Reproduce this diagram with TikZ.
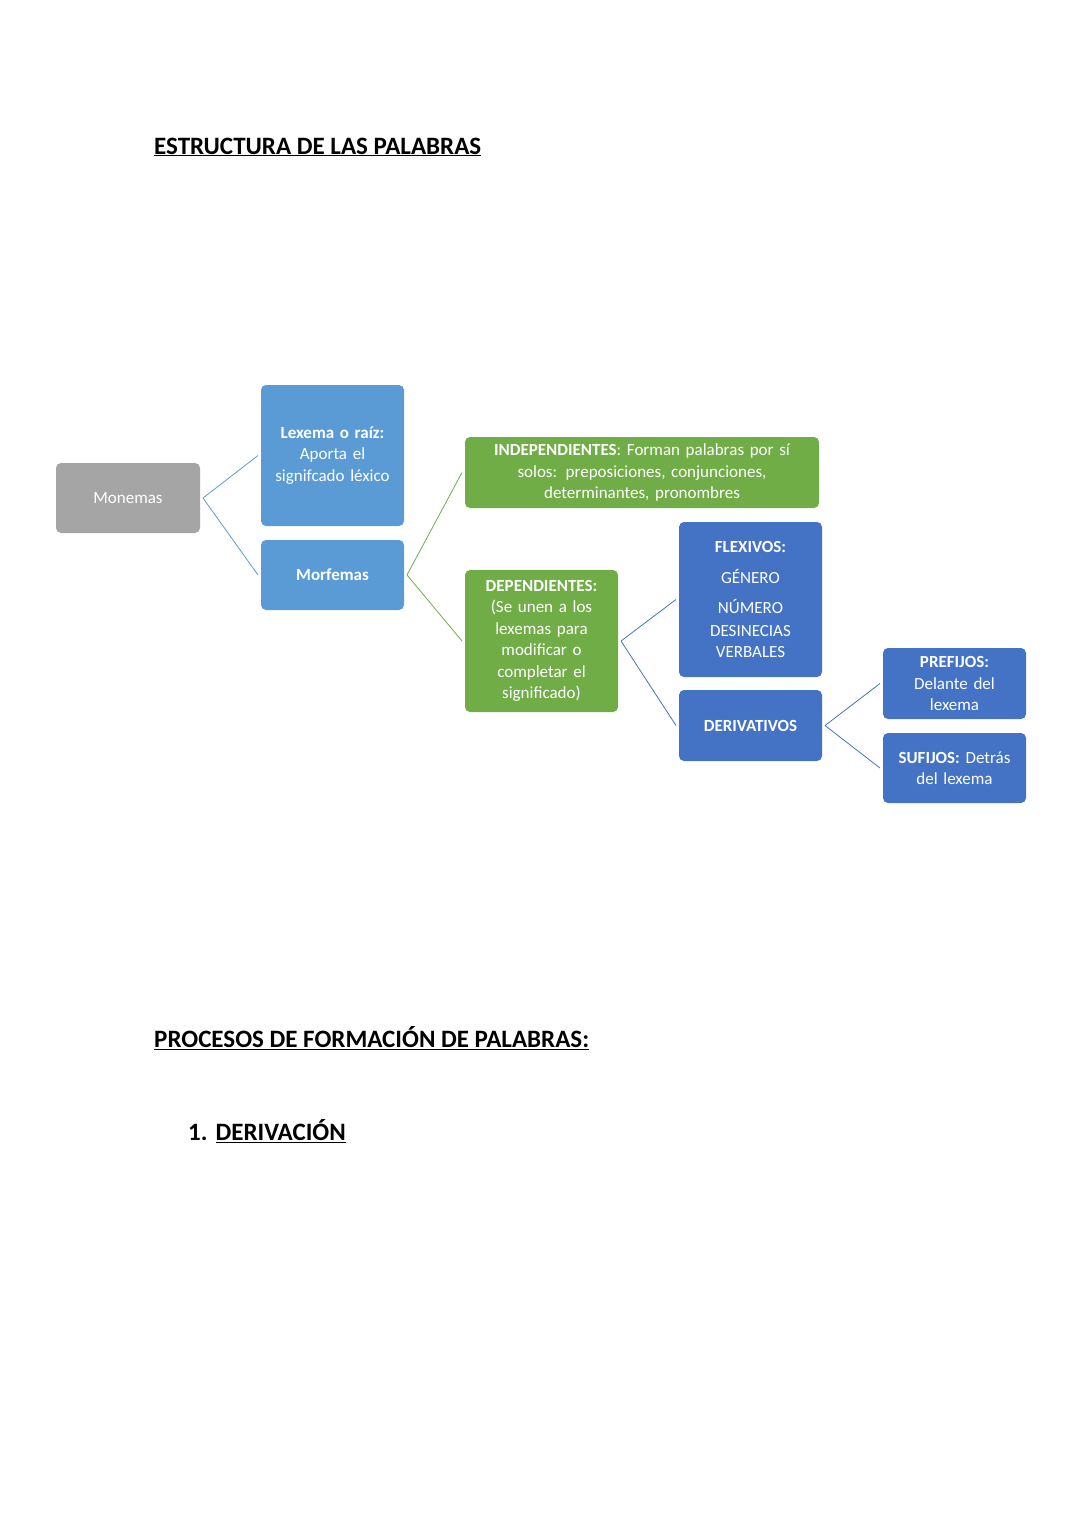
\documentclass[tikz,border=0pt]{standalone}
\usepackage{fontspec}
\setmainfont{Carlito}
\begin{document}
\begin{tikzpicture}[x=1pt,y=-1pt,
 box/.style={rounded corners=5pt,text=white,align=center,inner sep=2pt,font=\fontsize{17}{21.5}\selectfont},
 ttl/.style={anchor=west,font=\fontsize{25}{30}\selectfont\bfseries,inner sep=0pt}]
\useasboundingbox (0,0) rectangle (1080,1527);
\definecolor{gr}{HTML}{A5A5A5}\definecolor{lb}{HTML}{5B9BD5}
\definecolor{gn}{HTML}{70AD47}\definecolor{db}{HTML}{4472C4}
\newcommand\bx[6]{\fill[#2,rounded corners=5pt] (#3,#4) rectangle (#5,#6);
 \node[box,text width=#5pt-#3pt-6pt] (#1) at ({(#3+#5)/2},{(#4+#6)/2}) {};
 \coordinate (#1w) at (#3-3,{(#4+#6)/2}); \coordinate (#1e) at (#5+3,{(#4+#6)/2});}
\bx{mo}{gr}{56}{463}{200}{533}
\bx{le}{lb}{261}{385}{404}{526}
\bx{mf}{lb}{261}{540}{404}{610}
\bx{in}{gn}{465}{437}{819}{508}
\bx{de}{gn}{465}{570}{618}{712}
\bx{fl}{db}{679}{522}{822}{677}
\bx{dv}{db}{679}{690}{822}{761}
\bx{pr}{db}{883}{648}{1026}{719}
\bx{su}{db}{883}{733}{1026}{803}
\node[box,text width=138pt] at (mo) {Monemas};
\node[box,text width=138pt] at (le) {\textbf{Lexema o raíz:}\\Aporta el\\signifcado léxico};
\node[box,text width=138pt] at (mf) {\textbf{Morfemas}};
\node[box,text width=350pt] at (in) {\textbf{INDEPENDIENTES}: Forman palabras por sí\\solos: preposiciones, conjunciones,\\determinantes, pronombres};
\node[box,text width=148pt] at (de) {\textbf{DEPENDIENTES:}\\(Se unen a los\\lexemas para\\modificar o\\completar el\\significado)};
\node[box,text width=138pt,font=\fontsize{17}{30.5}\selectfont] at (fl) {\textbf{FLEXIVOS:}\\GÉNERO\\NÚMERO\\[-8pt]DESINECIAS\\[-9pt]VERBALES};
\node[box,text width=138pt] at (dv) {\textbf{DERIVATIVOS}};
\node[box,text width=140pt] at (pr) {\textbf{PREFIJOS:}\\Delante del\\lexema};
\node[box,text width=140pt] at (su) {\textbf{SUFIJOS:} Detrás\\del lexema};
\draw[lb,thick] (moe) -- (lew) (moe) -- (mfw);
\draw[gn,thick] (mfe) -- (inw) (mfe) -- (dew);
\draw[db,thick] (dee) -- (flw) (dee) -- (dvw);
\draw[db,thick] (dve) -- (prw) (dve) -- (suw);
\node[ttl] (t1) at (154,147) {\underline{ESTRUCTURA DE LAS PALABRAS}};
\node[ttl] (t2) at (154,1038) {\underline{PROCESOS DE FORMACIÓN DE PALABRAS:}};
\node[ttl] (t3) at (188,1131) {1.\hspace{8pt}\underline{DERIVACIÓN}};
\end{tikzpicture}
\end{document}
